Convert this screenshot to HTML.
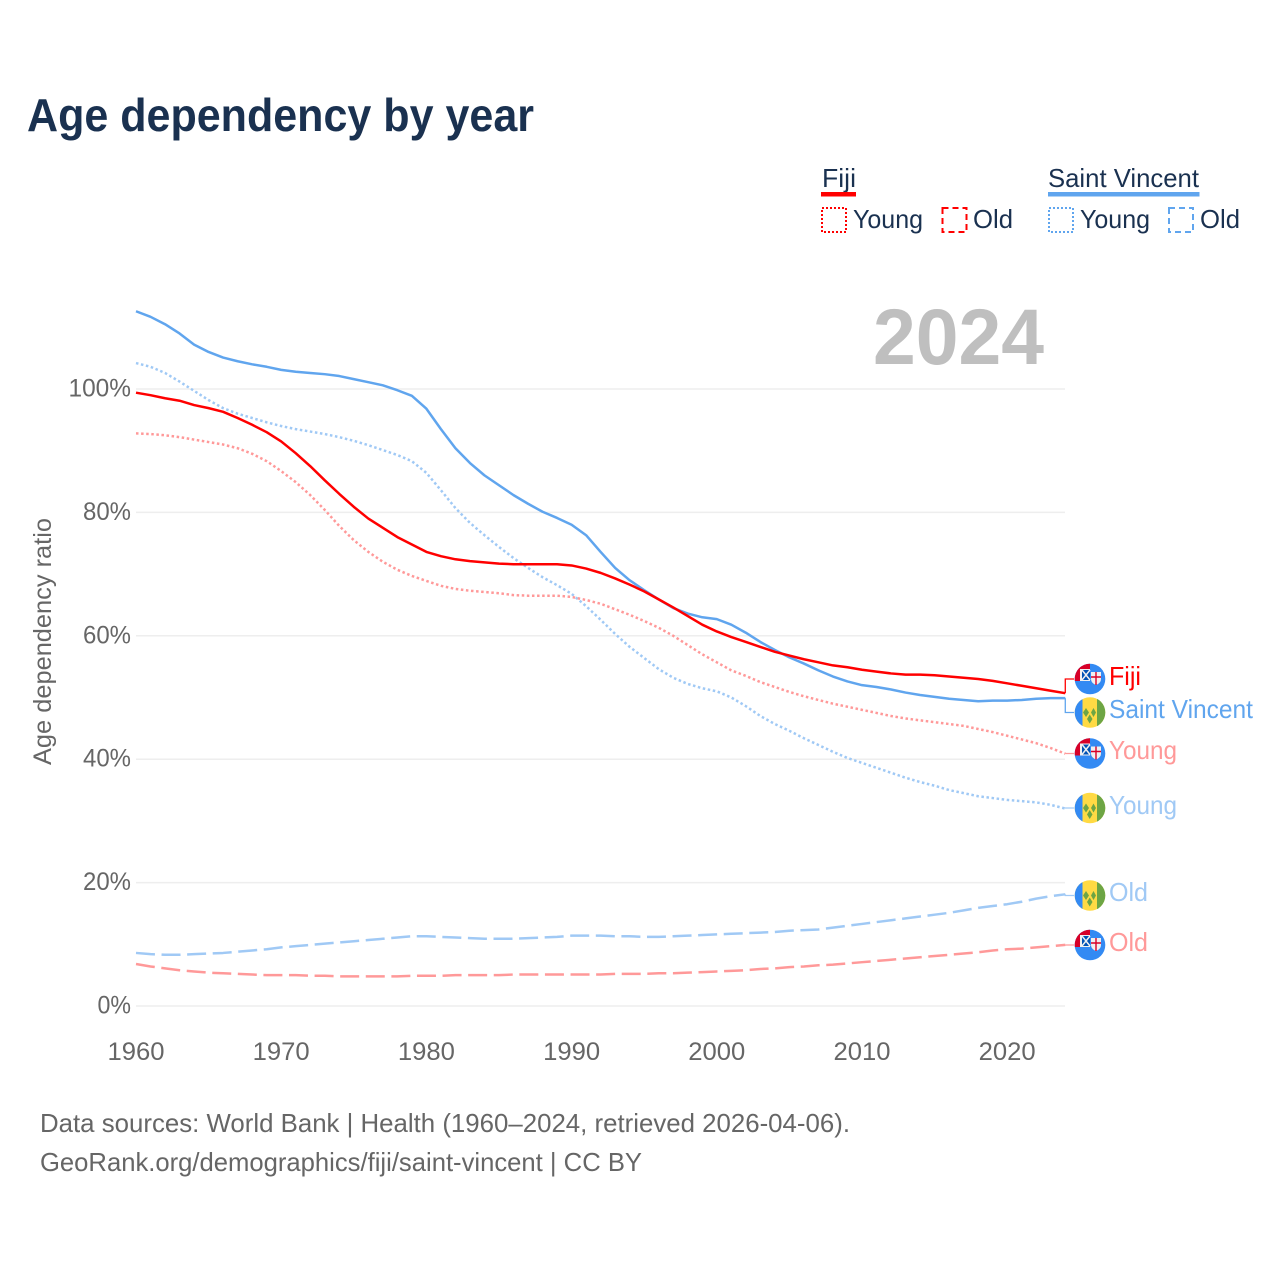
<!DOCTYPE html>
<html lang="en">
<head>
<meta charset="utf-8">
<title>Age dependency by year</title>
<style>
html,body{margin:0;padding:0;background:#fff;}
svg{display:block;}
text{font-family:"Liberation Sans",sans-serif;}
</style>
</head>
<body>
<svg id="chart" xmlns="http://www.w3.org/2000/svg" width="1280" height="1280" viewBox="0 0 1280 1280">
  <defs>
    <clipPath id="flag-clip"><circle cx="0" cy="0" r="15.3"/></clipPath>
    <g id="flag-fiji" clip-path="url(#flag-clip)">
      <rect x="-16" y="-16" width="32" height="32" fill="#338af3"/>
      <rect x="-16" y="-16" width="16" height="18" fill="#d80027"/>
      <rect x="-10" y="-10" width="10" height="12" fill="#f0f0f0"/>
      <rect x="-8" y="-9" width="8" height="10" fill="#0052b4"/>
      <path d="M-8-9L0 1M-8 1L0-9" stroke="#f0f0f0" stroke-width="1.5"/>
      <path d="M1-7H11V0Q11 4 6 6Q1 4 1 0Z" fill="#f0f0f0"/>
      <path d="M6-7V6M1-2H11" stroke="#d80027" stroke-width="1.4"/>
    </g>
    <g id="flag-vincent" clip-path="url(#flag-clip)">
      <rect x="-16" y="-16" width="32" height="32" fill="#ffda44"/>
      <rect x="-16" y="-16" width="8.500" height="32" fill="#338af3"/>
      <rect x="7" y="-16" width="9" height="32" fill="#6da544"/>
      <path d="M-4-4.500L-1 0L-4 4.500L-7 0Z M3.500-4.500L6 0L3.500 4.500L1 0Z M-0.300 2L2.500 6.500L-0.300 11L-3 6.500Z" fill="#6da544"/>
    </g>
  </defs>

  <text x="27" y="131" font-size="46" font-weight="700" fill="#1a3150" textLength="507" lengthAdjust="spacingAndGlyphs">Age dependency by year</text>

  <g font-size="26" fill="#1a3150">
    <text x="822" y="187" textLength="34" lengthAdjust="spacingAndGlyphs">Fiji</text>
    <rect x="821" y="192" width="35" height="4.500" fill="#ff0000"/>
    <rect x="822" y="208" width="24" height="24" fill="none" stroke="#ff0000" stroke-width="2" stroke-dasharray="2 2"/>
    <text x="853" y="228" textLength="70" lengthAdjust="spacingAndGlyphs">Young</text>
    <rect x="942.500" y="208" width="24" height="24" fill="none" stroke="#ff0000" stroke-width="2" stroke-dasharray="6 4"/>
    <text x="973" y="228" textLength="40" lengthAdjust="spacingAndGlyphs">Old</text>

    <text x="1048" y="187" textLength="151" lengthAdjust="spacingAndGlyphs">Saint Vincent</text>
    <rect x="1048" y="192" width="151.500" height="4.500" fill="#60a5ee"/>
    <rect x="1049" y="208" width="24" height="24" fill="none" stroke="#60a5ee" stroke-width="2" stroke-dasharray="2 2"/>
    <text x="1080" y="228" textLength="70" lengthAdjust="spacingAndGlyphs">Young</text>
    <rect x="1169" y="208" width="24" height="24" fill="none" stroke="#60a5ee" stroke-width="2" stroke-dasharray="6 4"/>
    <text x="1200" y="228" textLength="40" lengthAdjust="spacingAndGlyphs">Old</text>
  </g>

  <text transform="translate(51,641.500) rotate(-90)" text-anchor="middle" font-size="25" fill="#666666" textLength="247" lengthAdjust="spacingAndGlyphs">Age dependency ratio</text>

  <g id="grid"></g>
  <g id="y-ticks"></g>
  <g id="x-ticks"></g>

  <text x="873" y="364" font-size="79" font-weight="700" fill="#bfbfbf" textLength="171" lengthAdjust="spacingAndGlyphs">2024</text>

  <g id="series"></g>
  <g id="connectors"></g>

  <use href="#flag-fiji" x="1090" y="679"/>
  <use href="#flag-vincent" x="1090" y="712.500"/>
  <use href="#flag-fiji" x="1090" y="753.500"/>
  <use href="#flag-vincent" x="1090" y="808"/>
  <use href="#flag-vincent" x="1090" y="895.500"/>
  <use href="#flag-fiji" x="1090" y="945"/>

  <g font-size="26">
    <text x="1109" y="685" fill="#ff0000" textLength="32" lengthAdjust="spacingAndGlyphs">Fiji</text>
    <text x="1109" y="718" fill="#60a5ee" textLength="144" lengthAdjust="spacingAndGlyphs">Saint Vincent</text>
    <text x="1109" y="759" fill="#ff9999" textLength="68" lengthAdjust="spacingAndGlyphs">Young</text>
    <text x="1109" y="814" fill="#a0c9f5" textLength="68" lengthAdjust="spacingAndGlyphs">Young</text>
    <text x="1109" y="901" fill="#a0c9f5" textLength="39" lengthAdjust="spacingAndGlyphs">Old</text>
    <text x="1109" y="951" fill="#ff9999" textLength="39" lengthAdjust="spacingAndGlyphs">Old</text>
  </g>

  <g font-size="26" fill="#666666">
    <text x="40" y="1132" textLength="810" lengthAdjust="spacingAndGlyphs">Data sources: World Bank | Health (1960–2024, retrieved 2026-04-06).</text>
    <text x="40" y="1171" textLength="602" lengthAdjust="spacingAndGlyphs">GeoRank.org/demographics/fiji/saint-vincent | CC BY</text>
  </g>
</svg>
<script>
const years = Array.from({length: 65}, (_, i) => 1960 + i);
const xTickLabels = [1960, 1970, 1980, 1990, 2000, 2010, 2020];
const yTickLabels = [0, 20, 40, 60, 80, 100];

const fijiTotal = [
  99.4,99.0,98.5,98.1,97.4,96.9,96.3,95.3,94.2,93.0,
  91.5,89.6,87.5,85.2,83.0,80.9,79.0,77.5,76.0,74.8,
  73.6,72.9,72.4,72.1,71.9,71.7,71.6,71.6,71.6,71.6,
  71.4,70.9,70.2,69.3,68.3,67.2,65.9,64.6,63.2,61.8,
  60.7,59.8,59.0,58.2,57.4,56.8,56.2,55.7,55.2,54.9,
  54.5,54.2,53.9,53.7,53.7,53.6,53.4,53.2,53.0,52.7,
  52.3,51.9,51.5,51.1,50.7];
const vincentTotal = [
  112.6,111.7,110.5,109.0,107.2,106.0,105.1,104.5,104.0,103.6,
  103.1,102.8,102.6,102.4,102.1,101.6,101.1,100.6,99.8,98.9,
  96.8,93.5,90.4,88.0,86.0,84.4,82.8,81.4,80.1,79.1,
  78.0,76.3,73.6,71.0,69.0,67.4,65.9,64.5,63.6,63.0,
  62.7,61.8,60.5,59.0,57.7,56.5,55.5,54.4,53.4,52.6,
  52.0,51.7,51.3,50.8,50.4,50.1,49.8,49.6,49.4,49.5,
  49.5,49.6,49.8,49.9,49.9];
const fijiYoung = [
  92.8,92.7,92.5,92.2,91.8,91.4,91.0,90.4,89.5,88.3,
  86.7,84.9,82.8,80.4,77.8,75.5,73.6,72.0,70.7,69.7,
  68.9,68.1,67.6,67.3,67.1,66.9,66.6,66.5,66.5,66.5,
  66.3,65.8,65.2,64.3,63.4,62.4,61.3,60.0,58.5,57.0,
  55.7,54.4,53.5,52.5,51.7,50.9,50.2,49.6,49.0,48.5,
  48.0,47.5,47.0,46.6,46.3,46.0,45.7,45.4,44.9,44.4,
  43.8,43.2,42.6,41.8,40.9];
const vincentYoung = [
  104.2,103.6,102.6,101.2,99.7,98.2,96.9,96.0,95.3,94.6,
  94.0,93.5,93.1,92.7,92.2,91.6,90.9,90.1,89.3,88.3,
  86.4,83.6,80.7,78.3,76.3,74.4,72.6,71.0,69.5,68.2,
  66.8,64.8,62.6,60.3,58.2,56.4,54.6,53.2,52.2,51.5,
  51.0,50.0,48.6,47.0,45.7,44.6,43.4,42.3,41.2,40.2,
  39.4,38.6,37.8,37.0,36.3,35.7,35.0,34.5,34.0,33.7,
  33.4,33.2,33.0,32.6,32.0];
const vincentOld = [
  8.6,8.4,8.3,8.3,8.4,8.5,8.6,8.8,9.0,9.2,
  9.5,9.7,9.9,10.1,10.3,10.5,10.7,10.9,11.1,11.3,
  11.3,11.2,11.1,11.0,10.9,10.9,10.9,11.0,11.1,11.2,
  11.4,11.4,11.4,11.3,11.3,11.2,11.2,11.3,11.4,11.5,
  11.6,11.7,11.8,11.9,12.0,12.2,12.3,12.4,12.7,13.0,
  13.3,13.6,13.9,14.2,14.5,14.8,15.1,15.5,15.9,16.2,
  16.5,16.9,17.4,17.8,18.1];
const fijiOld = [
  6.8,6.4,6.1,5.8,5.6,5.4,5.3,5.2,5.1,5.0,
  5.0,5.0,4.9,4.9,4.8,4.8,4.8,4.8,4.8,4.9,
  4.9,4.9,5.0,5.0,5.0,5.0,5.1,5.1,5.1,5.1,
  5.1,5.1,5.1,5.2,5.2,5.2,5.3,5.3,5.4,5.5,
  5.6,5.7,5.8,6.0,6.1,6.3,6.4,6.6,6.7,6.9,
  7.1,7.3,7.5,7.7,7.9,8.1,8.3,8.5,8.7,9.0,
  9.2,9.3,9.5,9.7,9.9];

const NS = 'http://www.w3.org/2000/svg';
const xScale = year => 136 + (year - 1960) * 14.52;
const yScale = value => 1006 - value * 6.17;

function make(tag, attrs, parent, content) {
  const el = document.createElementNS(NS, tag);
  for (const key in attrs) el.setAttribute(key, attrs[key]);
  if (content !== undefined) el.textContent = content;
  parent.appendChild(el);
  return el;
}

const gridLayer = document.getElementById('grid');
const yTickLayer = document.getElementById('y-ticks');
yTickLabels.forEach(tick => {
  const line = make('line', {x1: 136, x2: 1065, y1: yScale(tick), y2: yScale(tick), stroke: '#eeeeee', 'stroke-width': 1.5}, gridLayer);
  
  
  const label = make('text', {x: 131, y: yScale(tick) + 7.5, 'text-anchor': 'end', 'font-size': 25, fill: '#666666', textLength: String(tick).length * 14.5 + 19, lengthAdjust: 'spacingAndGlyphs'}, yTickLayer, tick + '%');
  
  
});

const xTickLayer = document.getElementById('x-ticks');
xTickLabels.forEach(tick => {
  const label = make('text', {x: xScale(tick), y: 1060, 'text-anchor': 'middle', 'font-size': 25, fill: '#666666', textLength: 57, lengthAdjust: 'spacingAndGlyphs'}, xTickLayer, tick);
  
  
});

function linePoints(values) {
  return values.map((value, i) => xScale(years[i]).toFixed(2) + ',' + yScale(value).toFixed(2)).join(' ');
}

const seriesLayer = document.getElementById('series');
function drawSeries(values, color, dash, name) {
  const attrs = {points: linePoints(values), fill: 'none', stroke: color, 'stroke-width': 2.5, 'stroke-linejoin': 'round'};
  if (dash) attrs['stroke-dasharray'] = dash;
  const line = make('polyline', attrs, seriesLayer);
  
  
}
drawSeries(vincentOld, '#a0c9f5', '19 6.6', 'line-vincent-old');
drawSeries(fijiOld, '#ff9999', '19 6.6', 'line-fiji-old');
drawSeries(vincentYoung, '#a0c9f5', '2.5 2.6', 'line-vincent-young');
drawSeries(fijiYoung, '#ff9999', '2.5 2.6', 'line-fiji-young');
drawSeries(vincentTotal, '#60a5ee', null, 'line-vincent-total');
drawSeries(fijiTotal, '#ff0000', null, 'line-fiji-total');

const connectorLayer = document.getElementById('connectors');
function drawConnector(values, labelY, color, name) {
  const endY = yScale(values[values.length - 1]);
  const endX = xScale(years[years.length - 1]);
  const line = make('polyline', {points: endX + ',' + endY + ' ' + endX + ',' + labelY + ' 1074,' + labelY, fill: 'none', stroke: color, 'stroke-width': 1.3}, connectorLayer);
  
  
}
drawConnector(fijiTotal, 679, '#ff0000', 'connector-fiji-total');
drawConnector(vincentTotal, 712.5, '#60a5ee', 'connector-vincent-total');
drawConnector(fijiYoung, 753.5, '#ff9999', 'connector-fiji-young');
drawConnector(vincentYoung, 808, '#a0c9f5', 'connector-vincent-young');
drawConnector(vincentOld, 895.5, '#a0c9f5', 'connector-vincent-old');
drawConnector(fijiOld, 945, '#ff9999', 'connector-fiji-old');
</script>
</body>
</html>
